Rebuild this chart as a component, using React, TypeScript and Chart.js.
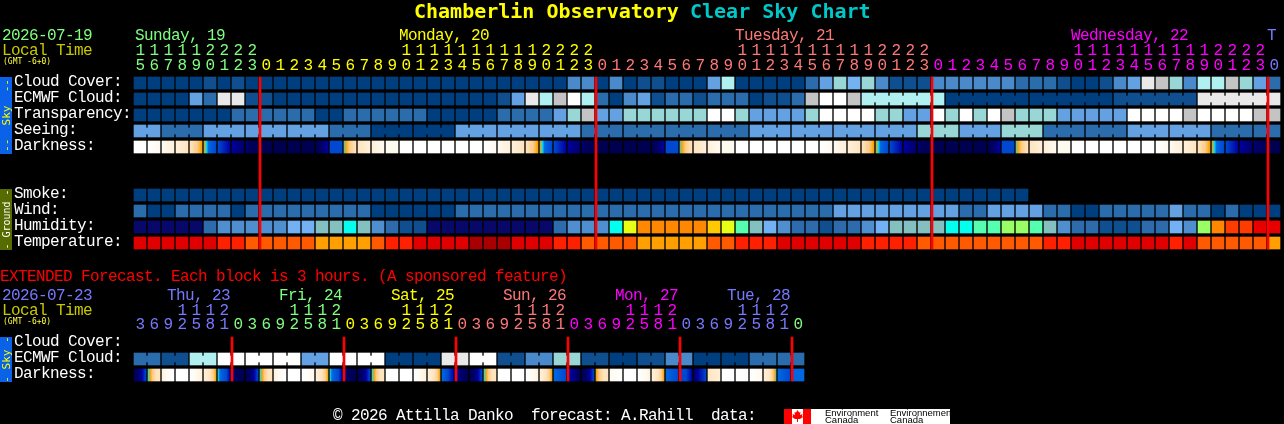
import React, { useEffect, useRef } from "react";
import { Chart, registerables } from "chart.js";

Chart.register(...registerables);

// ---------- chart values (forecast levels) ----------
const hourLabels = [15,16,17,18,19,20,21,22,23,0,1,2,3,4,5,6,7,8,9,10,11,12,13,14,15,16,17,18,19,20,21,22,23,0,1,2,3,4,5,6,7,8,9,10,11,12,13,14,15,16,17,18,19,20,21,22,23,0,1,2,3,4,5,6,7,8,9,10,11,12,13,14,15,16,17,18,19,20,21,22,23,0];
const hourDayIndex = [0,0,0,0,0,0,0,0,0,1,1,1,1,1,1,1,1,1,1,1,1,1,1,1,1,1,1,1,1,1,1,1,1,2,2,2,2,2,2,2,2,2,2,2,2,2,2,2,2,2,2,2,2,2,2,2,2,3,3,3,3,3,3,3,3,3,3,3,3,3,3,3,3,3,3,3,3,3,3,3,3,4];
const dayLabels = ["Sunday, 19", "Monday, 20", "Tuesday, 21", "Wednesday, 22", "T"];
const dayLabelCells = [0.07, 18.93, 42.93, 66.93, 80.93];
const dayColors = ["#7fff7f", "#ffff00", "#ff7878", "#ff00ff", "#7878ff"];

const cloudCover = [0,0,0,0,0,1,0,1,0,0,0,0,0,0,0,0,0,0,0,0,0,0,0,0,0,0,0,0,0,0,0,3,3,0,3,0,1,1,0,0,0,4,7,0,0,0,0,0,2,4,6,5,6,3,1,1,1,3,3,3,3,3,3,2,2,2,1,0,0,1,3,4,9,8,6,3,7,7,8,6,4,2];
const ecmwfCloud = [0,0,0,0,4,2,9,9,1,1,0,0,0,0,0,0,0,0,0,0,0,0,0,0,0,0,1,4,9,7,8,10,7,2,0,3,4,1,2,2,1,2,2,2,0,1,1,2,8,10,10,8,7,7,7,7,7,7,0,0,0,0,0,0,0,0,0,0,0,0,1,1,1,1,1,1,9,9,9,9,9,9];
const transparency = [0,0,0,0,0,0,0,2,2,2,2,2,2,0,0,2,2,2,2,2,2,0,0,0,0,0,2,2,2,2,4,6,8,4,4,6,6,6,6,6,6,10,10,6,4,4,4,4,6,10,10,10,10,6,6,4,4,10,6,10,6,10,8,6,6,6,4,4,4,4,4,10,10,10,10,8,10,10,10,10,8,8];
const seeing = [4,4,2,2,2,4,4,4,4,4,4,4,4,4,2,2,2,0,0,0,0,0,0,4,4,4,4,4,4,4,4,4,2,2,2,2,2,2,2,2,2,2,2,2,4,4,4,4,4,4,4,4,4,4,4,4,6,6,6,4,4,4,6,6,6,2,2,2,2,2,2,4,4,4,4,4,4,2,2,2,2,2];
const seeingBlockHours = [2,3,3,3,3,3,3,3,3,3,3,3,3,3,3,3,3,3,3,3,3,3,3,3,3,3,3,2];
const ecmwfBlockCells = [[52,57],[58,63],[64,69],[70,75],[76,81]];
const darknessStart = [0,0,1,2,3,5,8,9,10,11,11,11,11,11,8,5.5,3,2,1,0,0,0,0,0,0,0,1,2,3,5,8,9,10,11,11,11,11,11,8,5.5,3,2,1,0,0,0,0,0,0,0,1,2,3,5,8,9,10,11,11,11,11,11,8,5.5,3,2,1,0,0,0,0,0,0,0,1,2,3,5,8,9,9.5,11];
const darknessEnd = [0,1,2,3,5,8,8.5,10,11,11,11,11,11,9,7.5,3,2,1,0.5,0,0,0,0,0,0,1,2,3,5,8,8.5,10,11,11,11,11,11,9,7.5,3,2,1,0.5,0,0,0,0,0,0,1,2,3,5,8,8.5,10,11,11,11,11,11,9,7.5,3,2,1,0.5,0,0,0,0,0,0,1,2,3,5,8,8.5,9.5,10.5,11];

const smoke = [0,0,0,0,0,0,0,0,0,0,0,0,0,0,0,0,0,0,0,0,0,0,0,0,0,0,0,0,0,0,0,0,0,0,0,0,0,0,0,0,0,0,0,0,0,0,0,0,0,0,0,0,0,0,0,0,0,0,0,0,0,0,0,0];
const wind = [2,0,0,2,2,2,2,0,2,2,2,2,2,2,2,2,2,0,0,0,0,0,0,2,2,2,2,2,2,2,2,2,2,2,2,2,2,2,2,2,2,2,2,2,2,2,2,2,2,2,4,4,4,4,4,4,4,4,4,2,2,4,4,4,4,2,2,0,0,2,2,2,2,2,4,2,2,0,2,0,0,0];
const humidity = [0,0,0,0,0,2,3,3,3,3,3,4,4,5,5,6,5,3,2,1,1,0,0,0,0,0,0,0,0,0,2,3,3,3,6,9,11,11,11,11,11,10,9,7,5,4,3,2,2,1,2,2,3,4,5,5,5,5,6,6,7,7,8,8,7,5,3,2,2,1,1,1,2,2,4,3,8,11,12,12,13,13];
const temperature = [1,1,1,1,1,1,2,2,3,3,3,3,3,4,4,4,4,3,2,2,1,1,1,1,0,0,0,1,1,1,2,2,3,3,3,3,4,4,4,4,4,3,3,2,2,2,1,1,1,1,1,1,2,2,2,2,3,3,3,3,3,3,3,3,3,2,2,1,1,1,1,1,1,1,2,1,3,3,3,3,3,4];

const extendedHours = [3,6,9,12,15,18,21,0,3,6,9,12,15,18,21,0,3,6,9,12,15,18,21,0,3,6,9,12,15,18,21,0,3,6,9,12,15,18,21,0,3,6,9,12,15,18,21,0];
const extendedDayIndex = [0,0,0,0,0,0,0,1,1,1,1,1,1,1,1,2,2,2,2,2,2,2,2,3,3,3,3,3,3,3,3,4,4,4,4,4,4,4,4,5,5,5,5,5,5,5,5,6];
const extendedDayLabels = ["Thu, 23", "Fri, 24", "Sat, 25", "Sun, 26", "Mon, 27", "Tue, 28"];
const extendedDayCells = [1.93, 9.93, 17.93, 25.93, 33.93, 41.93];
const extendedDayColors = ["#7878ff", "#7fff7f", "#ffff00", "#ff7878", "#ff00ff", "#7878ff", "#7fff7f"];
const extendedEcmwf = [2,2,1,1,7,7,10,10,10,10,10,10,4,4,10,10,10,10,0,0,0,0,9,9,10,10,1,1,3,3,6,6,1,1,0,0,1,1,3,3,0,0,0,0,2,2,2,2];
const extendedDarkStart = [11,6,1.5,0,0,2,6,10,11,6,1.5,0,0,2,6,10,11,6,0,0,0,2,7,9,11,6,0,0,0,2,7,8.5,11,5,1,0,0,2,7,7.5,9.5,3,0,0,0,2,7,7];
const extendedDarkEnd = [8,2.5,0,0,2,5,8.5,11,8,2.5,0,0,1,5,8.5,11,8,2.5,0,0,2,5,9,11,8,2.5,0,0,1.5,5,8,10.5,8,2.5,0,0,1.5,5,8,8.5,8,2,0,0,1,5.5,7.5,7];

const rowLabels = ["Cloud Cover:", "ECMWF Cloud:", "Transparency:", "Seeing:", "Darkness:", "Smoke:", "Wind:", "Humidity:", "Temperature:", "Cloud Cover:", "ECMWF Cloud:", "Darkness:"];
const rowIndex = [0, 1, 2, 3, 4, 7, 8, 9, 10, 16.25, 17.25, 18.25];
const midnightCells = [9, 33, 57, 81];
const extendedMidnightCells = [7, 15, 23, 31, 39, 47];

// ---------- styles ----------
const skyPalette = ["#003f7f", "#0f4f8f", "#2b6cad", "#4a8acb", "#63a1e3", "#74b2f2", "#99d6d6", "#b0f0f0", "#c4c4c4", "#e9e9e9", "#ffffff"];
const humidityPalette = ["#08086a", "#0f4f8f", "#2d6bad", "#4f8fd0", "#72b2f4", "#85c0c0", "#05ffee", "#55ffaf", "#99ff66", "#e6ff14", "#ffc800", "#ff8800", "#ff3c00", "#e80000"];
const temperaturePalette = ["#a80000", "#e00000", "#ff2000", "#ff5a00", "#ffa000"];
const darknessRamp = ["#ffffff", "#fffaf0", "#fff0d8", "#ffe4c0", "#ffcc88", "#f5a000", "#10e0f0", "#0068e0", "#0048d0", "#0000a0", "#000068", "#000050"];
const darknessRampPos = [0, 1, 2, 3, 3.6, 4, 4.3, 4.6, 5.6, 6.6, 7.6, 8.6];

const BOLD_MONO = '"DejaVu Sans Mono", monospace';
const MONO = '"Liberation Mono", monospace';
const W = 1284;
const H = 424;
const CELL = 14;
const ROW = 16;
const FIRST_CENTER_X = 140;
const FIRST_CENTER_Y = 83;
const CELL_PX = 12;
const HALF_ROW = 0.375;
const EDGE = 3 / 7; // a cell's left edge, in cell units

function cellRow(values: number[], row: number, palette: string[], label: string) {
  return {
    label,
    data: values.map((_, i) => ({ x: i, y: [row - HALF_ROW, row + HALF_ROW] })),
    backgroundColor: values.map((v) => palette[v]),
    barThickness: CELL_PX,
  };
}

function rampPos(t: number) {
  const f = Math.floor(t);
  if (f >= darknessRampPos.length - 1) return darknessRampPos[darknessRampPos.length - 1];
  return darknessRampPos[f] + (t - f) * (darknessRampPos[f + 1] - darknessRampPos[f]);
}

function gradientRow(starts: number[], ends: number[], row: number, label: string) {
  return {
    label,
    data: starts.map((_, i) => ({ x: i, y: [row - HALF_ROW, row + HALF_ROW] })),
    barThickness: CELL_PX,
    backgroundColor: (ctx: any) => {
      const i = ctx.dataIndex;
      if (i === undefined) return "#000";
      const a = starts[i];
      const b = ends[i];
      const scale = ctx.chart.scales.x;
      if (!ctx.chart.chartArea || !scale) return darknessRamp[Math.round(a)];
      if (a === b) return darknessRamp[Math.round(a)];
      const px = scale.getPixelForValue(i);
      const g = ctx.chart.ctx.createLinearGradient(px - CELL_PX / 2, 0, px + CELL_PX / 2, 0);
      const pa = rampPos(a);
      const pb = rampPos(b);
      g.addColorStop(0, darknessRamp[Math.round(a)]);
      const lo = Math.min(a, b);
      const hi = Math.max(a, b);
      for (let k = Math.ceil(lo); k <= Math.floor(hi); k++) {
        g.addColorStop(Math.abs(darknessRampPos[k] - pa) / Math.abs(pb - pa), darknessRamp[k]);
      }
      g.addColorStop(1, darknessRamp[Math.round(b)]);
      return g;
    },
  };
}

function blockBridges(blocks: number[][], row: number, colors: number[], palette: string[], label: string) {
  const data: any[] = [];
  const bg: string[] = [];
  blocks.forEach(([from, to]) => {
    for (let i = from; i < to; i++) {
      data.push({ x: i + 0.5, y: [row - 0.1875, row + 0.1875] });
      bg.push(palette[colors[i]]);
    }
  });
  return { label, data, backgroundColor: bg, barThickness: 2 };
}

function seeingBlocks() {
  const blocks: number[][] = [];
  let at = 0;
  seeingBlockHours.forEach((n) => {
    blocks.push([at, at + n - 1]);
    at += n;
  });
  return blocks;
}

function extendedBlocks() {
  const blocks: number[][] = [];
  for (let i = 0; i < extendedEcmwf.length; i += 2) blocks.push([i, i + 1]);
  return blocks;
}

const textPlugin = {
  id: "clearSkyText",
  afterDraw(chart: any) {
    const c = chart.ctx;
    const xs = chart.scales.x;
    const ys = chart.scales.y;
    const put = (s: string, x: number, y: number, color: string, font: string, align: CanvasTextAlign = "left", spacing = "0px") => {
      c.font = font;
      (c as any).letterSpacing = spacing;
      c.fillStyle = color;
      c.textAlign = align;
      c.textBaseline = "alphabetic";
      c.fillText(s, x, y);
    };
    const body = (s: string, x: number, y: number, color: string, align: CanvasTextAlign = "left") =>
      put(s, x, y, color, `16px ${MONO}`, align, "-0.6px");
    c.save();

    // title
    put("Chamberlin Observatory", 414, 18, "#ffff00", `bold 20px ${BOLD_MONO}`);
    put("Clear Sky Chart", 690, 18, "#00c8c8", `bold 20px ${BOLD_MONO}`);

    // side tabs
    const tab = (top: number, bottom: number, fill: string, text: string, color: string, size: number) => {
      c.fillStyle = fill;
      c.fillRect(0, top, 12, bottom - top);
      c.save();
      c.translate(10, (top + bottom) / 2);
      c.rotate(-Math.PI / 2);
      put(text, 0, 0, color, `${size}px ${BOLD_MONO}`, "center");
      c.restore();
    };
    tab(77, 154, "#0a62e8", "--  Sky  --", "#ffff00", 11);
    tab(189, 250, "#566c00", "- Ground -", "#ffffff", 10);
    tab(337, 382, "#0a62e8", "- Sky -", "#ffff00", 11);

    // row labels
    rowLabels.forEach((s, i) => body(s, 14, ys.getPixelForValue(rowIndex[i]) + 3, "#ffffff"));

    // hourly header
    body("2026-07-19", 2, 40, "#7fff7f");
    body("Local Time", 2, 55, "#c8c800");
    put("(GMT -6+0)", 3, 64, "#ffff40", `8px ${BOLD_MONO}`);
    dayLabels.forEach((s, i) => body(s, xs.getPixelForValue(dayLabelCells[i]) - 6, 40, dayColors[i]));
    hourLabels.forEach((h, i) => {
      const px = xs.getPixelForValue(i);
      const color = dayColors[hourDayIndex[i]];
      if (h >= 10) body(String(Math.floor(h / 10)), px, 55, color, "center");
      body(String(h % 10), px, 70, color, "center");
    });

    // extended header
    body("EXTENDED Forecast. Each block is 3 hours. (A sponsored feature)", 0, 281, "#ff0000");
    body("2026-07-23", 2, 300, "#7878ff");
    body("Local Time", 2, 315, "#c8c800");
    put("(GMT -6+0)", 3, 324, "#ffff40", `8px ${BOLD_MONO}`);
    extendedDayLabels.forEach((s, i) => body(s, xs.getPixelForValue(extendedDayCells[i]), 300, extendedDayColors[i]));
    extendedHours.forEach((h, i) => {
      const px = xs.getPixelForValue(i);
      const color = extendedDayColors[extendedDayIndex[i]];
      if (h >= 10) body(String(Math.floor(h / 10)), px, 315, color, "center");
      body(String(h % 10), px, 329, color, "center");
    });

    // footer
    body("© 2026 Attilla Danko  forecast: A.Rahill  data:", 333, 420, "#ffffff");
    c.fillStyle = "#ffffff";
    c.fillRect(784, 409, 166, 15);
    c.fillStyle = "#ff0000";
    c.fillRect(784, 409, 8, 15);
    c.fillRect(803, 409, 8, 15);
    c.beginPath();
    const lx = 797.5;
    const leaf = [[0,-6],[1.5,-3.5],[3,-4],[2.5,-1],[5,-2],[4.5,0],[5.5,1],[2.5,3],[0.5,3],[0.5,6],[-0.5,6],[-0.5,3],[-2.5,3],[-5.5,1],[-4.5,0],[-5,-2],[-2.5,-1],[-3,-4],[-1.5,-3.5]];
    leaf.forEach(([dx, dy], i) => (i ? c.lineTo(lx + dx, 416 + dy) : c.moveTo(lx + dx, 416 + dy)));
    c.closePath();
    c.fill();
    const small = '9.5px "Liberation Sans", sans-serif';
    put("Environment", 825, 416, "#000000", small);
    put("Canada", 825, 423, "#000000", small);
    put("Environnement", 890, 416, "#000000", small);
    put("Canada", 890, 423, "#000000", small);
    c.restore();
  },
};

export default function App() {
  const ref = useRef<HTMLCanvasElement | null>(null);
  useEffect(() => {
    document.body.style.margin = "0";
    document.body.style.background = "#000";
    const canvas = ref.current!;
    const midnightData = [
      ...midnightCells.map((i) => ({ x: i - EDGE, y: [-HALF_ROW, 10 + HALF_ROW] })),
      ...extendedMidnightCells.map((i) => ({ x: i - EDGE, y: [15.875, 18.625] })),
    ];
    const chart = new Chart(canvas, {
      type: "bar",
      data: {
        datasets: [
          { label: "Midnight", data: midnightData, backgroundColor: "#ff0000", barThickness: 2 },
          cellRow(cloudCover, rowIndex[0], skyPalette, "Cloud Cover"),
          cellRow(ecmwfCloud, rowIndex[1], skyPalette, "ECMWF Cloud"),
          blockBridges(ecmwfBlockCells, rowIndex[1], ecmwfCloud, skyPalette, "ECMWF blocks"),
          cellRow(transparency, rowIndex[2], skyPalette, "Transparency"),
          cellRow(seeing, rowIndex[3], skyPalette, "Seeing"),
          blockBridges(seeingBlocks(), rowIndex[3], seeing, skyPalette, "Seeing blocks"),
          gradientRow(darknessStart, darknessEnd, rowIndex[4], "Darkness"),
          cellRow(smoke, rowIndex[5], skyPalette, "Smoke"),
          cellRow(wind, rowIndex[6], skyPalette, "Wind"),
          cellRow(humidity, rowIndex[7], humidityPalette, "Humidity"),
          cellRow(temperature, rowIndex[8], temperaturePalette, "Temperature"),
          cellRow(extendedEcmwf, rowIndex[10], skyPalette, "Extended ECMWF Cloud"),
          blockBridges(extendedBlocks(), rowIndex[10], extendedEcmwf, skyPalette, "Extended ECMWF blocks"),
          gradientRow(extendedDarkStart, extendedDarkEnd, rowIndex[11], "Extended Darkness"),
        ] as any,
      },
      options: {
        animation: false,
        responsive: false,
        devicePixelRatio: 1,
        layout: { padding: 0 },
        datasets: { bar: { grouped: false, borderWidth: 0, borderSkipped: false } as any },
        scales: {
          x: { type: "linear", display: false, offset: false, min: -FIRST_CENTER_X / CELL, max: (W - FIRST_CENTER_X) / CELL, grid: { display: false } },
          y: { type: "linear", display: false, reverse: true, min: -FIRST_CENTER_Y / ROW, max: (H - FIRST_CENTER_Y) / ROW, grid: { display: false } },
        },
        plugins: { legend: { display: false }, tooltip: { enabled: false }, title: { display: false } },
      } as any,
      plugins: [textPlugin],
    });
    return () => chart.destroy();
  }, []);
  return (
    <div style={{ width: W, height: H, background: "#000", overflow: "hidden" }}>
      <canvas ref={ref} width={W} height={H} style={{ display: "block", width: W, height: H }} />
    </div>
  );
}
